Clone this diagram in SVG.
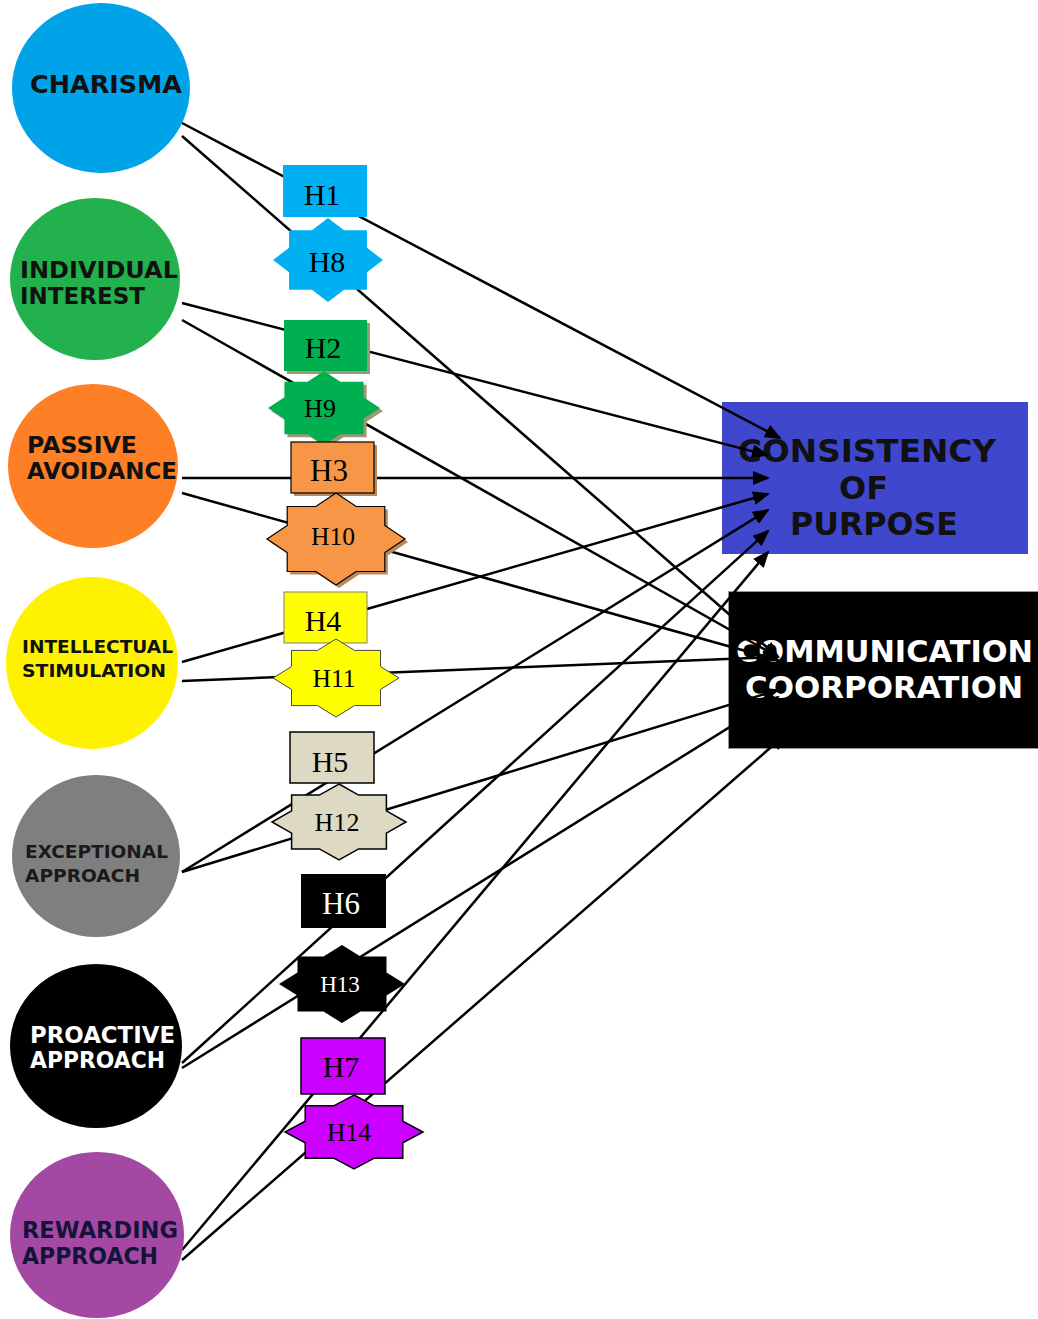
<svg xmlns="http://www.w3.org/2000/svg" width="1038" height="1319" viewBox="0 0 1038 1319">
<style>
.ct{font-family:"DejaVu Sans","Verdana",sans-serif;font-weight:bold;fill:#111}
.hl{font-family:"Liberation Serif","Times New Roman",serif;text-anchor:middle;fill:#000}
.cn{stroke:#000;stroke-width:2.5;fill:none;marker-end:url(#arr)}
.sh2{fill:#9c9878}
.sh3{fill:#b98a5e}
</style>
<defs>
<marker id="arr" markerUnits="userSpaceOnUse" markerWidth="17" markerHeight="14" viewBox="0 0 17 14" refX="15" refY="7" orient="auto">
<path d="M0,0 L17,7 L0,14 z" fill="#000"/>
</marker>
</defs>
<rect width="1038" height="1319" fill="#fff"/>

<g id="consistency">
<rect x="722" y="402" width="306" height="152" fill="#3f48cc"/>
<text class="ct" x="738" y="462" font-size="32" textLength="258" lengthAdjust="spacingAndGlyphs">CONSISTENCY</text>
<text class="ct" x="839" y="499" font-size="32">OF</text>
<text class="ct" x="790" y="535" font-size="32" textLength="168" lengthAdjust="spacingAndGlyphs">PURPOSE</text>
</g>
<g id="communication">
<rect x="728.5" y="591.5" width="312" height="157" fill="#000" stroke="#999" stroke-width="1"/>
<text class="ct" x="736" y="662" font-size="30" textLength="297" lengthAdjust="spacingAndGlyphs" style="fill:#fff">COMMUNICATION</text>
<text class="ct" x="745" y="698" font-size="30" textLength="278" lengthAdjust="spacingAndGlyphs" style="fill:#fff">COORPORATION</text>
</g>

<g id="connectors">
<line class="cn" x1="182" y1="123" x2="780" y2="438"/>
<line class="cn" x1="182" y1="303" x2="767" y2="455"/>
<line class="cn" x1="182" y1="478" x2="768" y2="478"/>
<line class="cn" x1="182" y1="662" x2="768" y2="494"/>
<line class="cn" x1="182" y1="872" x2="768" y2="510"/>
<line class="cn" x1="182" y1="1063" x2="768" y2="531"/>
<line class="cn" x1="182" y1="1250" x2="768" y2="552"/>
<line class="cn" x1="182" y1="136" x2="778" y2="657"/>
<line class="cn" x1="182" y1="320" x2="778" y2="657"/>
<line class="cn" x1="182" y1="493" x2="778" y2="660"/>
<line class="cn" x1="182" y1="681" x2="778" y2="657"/>
<line class="cn" x1="182" y1="872" x2="778" y2="690"/>
<line class="cn" x1="182" y1="1068" x2="778" y2="697"/>
<line class="cn" x1="182" y1="1260" x2="785" y2="735"/>
</g>

<g id="charisma">
<ellipse cx="101" cy="88" rx="89" ry="85" fill="#00a2e8"/>
<text class="ct" x="30" y="93" font-size="24.5" textLength="152" lengthAdjust="spacingAndGlyphs">CHARISMA</text>
</g>
<g id="individual-interest">
<ellipse cx="95" cy="279" rx="85" ry="81" fill="#22b14c"/>
<text class="ct" x="20" y="278" font-size="23.5" textLength="158" lengthAdjust="spacingAndGlyphs">INDIVIDUAL</text>
<text class="ct" x="20" y="304" font-size="23.5" textLength="125" lengthAdjust="spacingAndGlyphs">INTEREST</text>
</g>
<g id="passive-avoidance">
<ellipse cx="93" cy="466" rx="85" ry="82" fill="#ff7f27"/>
<text class="ct" x="27" y="453" font-size="23" textLength="110" lengthAdjust="spacingAndGlyphs">PASSIVE</text>
<text class="ct" x="27" y="479" font-size="23" textLength="150" lengthAdjust="spacingAndGlyphs">AVOIDANCE</text>
</g>
<g id="intellectual-stimulation">
<ellipse cx="92" cy="663" rx="86" ry="86" fill="#fff200"/>
<text class="ct" x="22" y="653" font-size="18.5" textLength="151" lengthAdjust="spacingAndGlyphs">INTELLECTUAL</text>
<text class="ct" x="22" y="677" font-size="18.5" textLength="144" lengthAdjust="spacingAndGlyphs">STIMULATION</text>
</g>
<g id="exceptional-approach">
<ellipse cx="96" cy="856" rx="84" ry="81" fill="#7f7f7f"/>
<text class="ct" x="25" y="858" font-size="18.4" textLength="143" lengthAdjust="spacingAndGlyphs" style="fill:#1a1a1a">EXCEPTIONAL</text>
<text class="ct" x="25" y="882" font-size="18.4" textLength="115" lengthAdjust="spacingAndGlyphs" style="fill:#1a1a1a">APPROACH</text>
</g>
<g id="proactive-approach">
<ellipse cx="96" cy="1046" rx="86" ry="82" fill="#000"/>
<text class="ct" x="30" y="1043" font-size="22.8" textLength="145" lengthAdjust="spacingAndGlyphs" style="fill:#fff">PROACTIVE</text>
<text class="ct" x="30" y="1068" font-size="22.8" textLength="135" lengthAdjust="spacingAndGlyphs" style="fill:#fff">APPROACH</text>
</g>
<g id="rewarding-approach">
<ellipse cx="97" cy="1235" rx="87" ry="83" fill="#a349a4"/>
<text class="ct" x="22" y="1238" font-size="22.4" textLength="156" lengthAdjust="spacingAndGlyphs" style="fill:#14143a">REWARDING</text>
<text class="ct" x="22" y="1264" font-size="22.4" textLength="136" lengthAdjust="spacingAndGlyphs" style="fill:#14143a">APPROACH</text>
</g>

<g id="H1">
<rect x="283" y="165" width="84" height="52" fill="#00b0f0"/>
<text class="hl" x="322" y="205" font-size="30">H1</text>
</g>
<g id="H8">
<polygon points="328,218 344.1,230.3 366.9,230.3 366.9,247.7 383,260 366.9,272.3 366.9,289.7 344.1,289.7 328,302 311.9,289.7 289.1,289.7 289.1,272.3 273,260 289.1,247.7 289.1,230.3 311.9,230.3" fill="#00b0f0"/>
<text class="hl" x="327" y="272" font-size="30">H8</text>
</g>
<g id="H2">
<rect class="sh2" x="287" y="323" width="83" height="51"/>
<rect x="284" y="320" width="83" height="51" fill="#00b050"/>
<text class="hl" x="323" y="358" font-size="30">H2</text>
</g>
<g id="H9">
<polygon class="sh2" transform="translate(3,3)" points="324,371 340.4,381.8 363.6,381.8 363.6,397.2 380,408 363.6,418.8 363.6,434.2 340.4,434.2 324,445 307.6,434.2 284.4,434.2 284.4,418.8 268,408 284.4,397.2 284.4,381.8 307.6,381.8"/>
<polygon points="324,371 340.4,381.8 363.6,381.8 363.6,397.2 380,408 363.6,418.8 363.6,434.2 340.4,434.2 324,445 307.6,434.2 284.4,434.2 284.4,418.8 268,408 284.4,397.2 284.4,381.8 307.6,381.8" fill="#00b050"/>
<text class="hl" x="320" y="417" font-size="26">H9</text>
</g>
<g id="H3">
<rect class="sh3" x="294" y="445" width="83" height="51"/>
<rect x="291" y="442" width="83" height="51" fill="#f79646" stroke="#000" stroke-width="1.2"/>
<text class="hl" x="329" y="481" font-size="31">H3</text>
</g>
<g id="H10">
<polygon class="sh3" transform="translate(3,3)" points="336,493 356.2,506.5 384.8,506.5 384.8,525.5 405,539 384.8,552.5 384.8,571.5 356.2,571.5 336,585 315.8,571.5 287.2,571.5 287.2,552.5 267,539 287.2,525.5 287.2,506.5 315.8,506.5"/>
<polygon points="336,493 356.2,506.5 384.8,506.5 384.8,525.5 405,539 384.8,552.5 384.8,571.5 356.2,571.5 336,585 315.8,571.5 287.2,571.5 287.2,552.5 267,539 287.2,525.5 287.2,506.5 315.8,506.5" fill="#f79646" stroke="#000" stroke-width="1.2"/>
<text class="hl" x="333" y="545" font-size="25.6">H10</text>
</g>
<g id="H4">
<rect x="284" y="592" width="83" height="51" fill="#ffff00" stroke="#7f7f7f" stroke-width="1"/>
<text class="hl" x="323" y="631" font-size="30">H4</text>
</g>
<g id="H11">
<polygon points="336,639 354.5,650.4 380.5,650.4 380.5,666.6 399,678 380.5,689.4 380.5,705.6 354.5,705.6 336,717 317.5,705.6 291.5,705.6 291.5,689.4 273,678 291.5,666.6 291.5,650.4 317.5,650.4" fill="#ffff00" stroke="#444" stroke-width="1"/>
<text class="hl" x="334" y="687" font-size="25.6">H11</text>
</g>
<g id="H5">
<rect x="290" y="732" width="84" height="51" fill="#ddd9c3" stroke="#000" stroke-width="1.5"/>
<text class="hl" x="330" y="772" font-size="30">H5</text>
</g>
<g id="H12">
<polygon points="339,784 358.6,795.1 386.4,795.1 386.4,810.9 406,822 386.4,833.1 386.4,848.9 358.6,848.9 339,860 319.4,848.9 291.6,848.9 291.6,833.1 272,822 291.6,810.9 291.6,795.1 319.4,795.1" fill="#ddd9c3" stroke="#000" stroke-width="1.5"/>
<text class="hl" x="337" y="831" font-size="26">H12</text>
</g>
<g id="H6">
<rect x="301" y="874" width="85" height="54" fill="#000"/>
<text class="hl" x="341" y="914" font-size="31" style="fill:#fff">H6</text>
</g>
<g id="H13">
<polygon points="342,945 360.5,956.4 386.5,956.4 386.5,972.6 405,984 386.5,995.4 386.5,1011.6 360.5,1011.6 342,1023 323.5,1011.6 297.5,1011.6 297.5,995.4 279,984 297.5,972.6 297.5,956.4 323.5,956.4" fill="#000"/>
<text class="hl" x="340" y="992" font-size="23" style="fill:#fff">H13</text>
</g>
<g id="H7">
<rect x="301" y="1038" width="84" height="56" fill="#cc00ff" stroke="#000" stroke-width="1.5"/>
<text class="hl" x="341" y="1077" font-size="30">H7</text>
</g>
<g id="H14">
<polygon points="354,1095 374.2,1105.8 402.8,1105.8 402.8,1121.2 423,1132 402.8,1142.8 402.8,1158.2 374.2,1158.2 354,1169 333.8,1158.2 305.2,1158.2 305.2,1142.8 285,1132 305.2,1121.2 305.2,1105.8 333.8,1105.8" fill="#cc00ff" stroke="#000" stroke-width="1.5"/>
<text class="hl" x="349" y="1141" font-size="25.6">H14</text>
</g>
</svg>
